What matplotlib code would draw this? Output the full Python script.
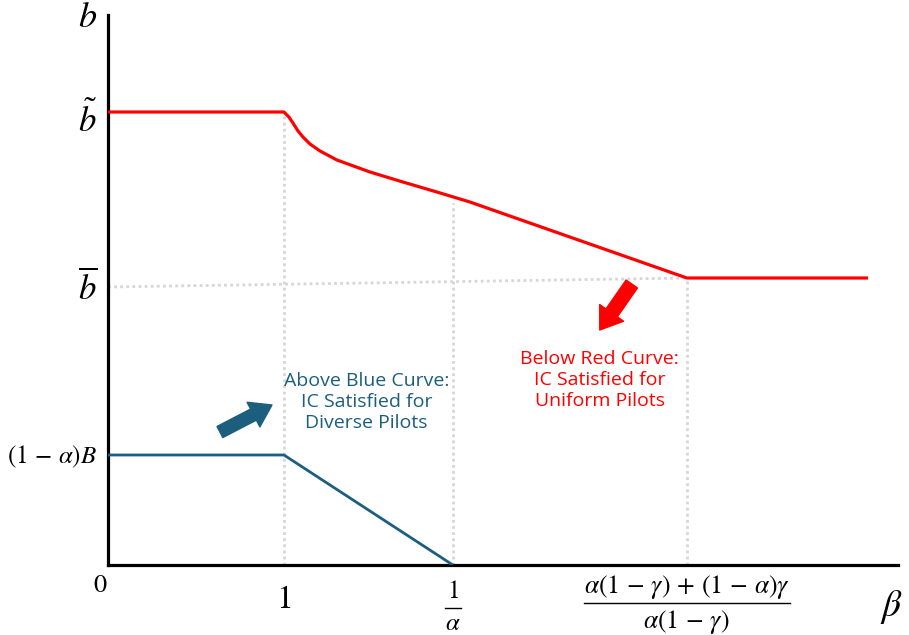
import numpy as np
import matplotlib
matplotlib.use("Agg")
import matplotlib.pyplot as plt

plt.rcParams["mathtext.fontset"] = "stix"
plt.rcParams["font.family"] = ["Open Sans", "DejaVu Sans"]

# Red curve (IC for uniform pilots)
beta_red = [0.0, 1.0, 1.028, 1.051, 1.080, 1.108, 1.148, 1.205, 1.301, 1.489, 1.676, 1.869, 2.057, 3.29, 4.32]
b_red = [4.53, 4.53, 4.48, 4.42, 4.34, 4.28, 4.21, 4.14, 4.05, 3.93, 3.83, 3.73, 3.63, 2.87, 2.87]

# Blue curve (IC for diverse pilots)
beta_blue = [0.0, 1.0, 1.96]
b_blue = [1.10, 1.10, 0.0]

# key levels
one = 1.0
inv_alpha = 1.96
beta_kink = 3.29
b_tilde = 4.53
b_bar_left, b_bar = 2.78, 2.87
b_low = 1.10

RED = "#ff0000"
BLUE = "#1b5e7e"
GREY = "#d6d6d6"

fig = plt.figure(figsize=(9.09, 6.35), dpi=100)
ax = fig.add_axes([108 / 909, 70 / 635, 790 / 909, 550 / 635])
ax.set_xlim(0, 4.49)
ax.set_ylim(0, 5.5)

for s in ["top", "right"]:
    ax.spines[s].set_visible(False)
for s in ["left", "bottom"]:
    ax.spines[s].set_linewidth(2.3)
    ax.spines[s].set_color("black")
ax.set_xticks([])
ax.set_yticks([])

# dotted guide lines
dot = dict(color=GREY, lw=2.0, linestyle=(0, (1, 1.2)), zorder=1)
ax.plot([one, one], [0, b_tilde], **dot)
ax.plot([inv_alpha, inv_alpha], [0, np.interp(inv_alpha, beta_red, b_red) - 0.06], **dot)
ax.plot([beta_kink, beta_kink], [0, b_bar], **dot)
ax.plot([0, beta_kink], [b_bar_left, b_bar], **dot)

# curves
ax.plot(beta_red, b_red, color=RED, lw=2.3, solid_capstyle="butt", solid_joinstyle="round", zorder=3)
ax.plot(beta_blue, b_blue, color=BLUE, lw=2.0, solid_capstyle="butt", zorder=3)

# axis labels
ax.text(-0.115, 5.47, r"$b$", fontsize=26, ha="center", va="center", clip_on=False)
ax.text(4.45, -0.42, r"$\beta$", fontsize=27, ha="center", va="center", clip_on=False)

# y tick labels
ax.text(-0.115, 4.44, r"$\tilde{b}$", fontsize=25, ha="center", va="center", clip_on=False)
ax.text(-0.115, 2.76, r"$\overline{b}$", fontsize=25, ha="center", va="center", clip_on=False)
ax.text(-0.06, 1.08, r"$(1\,-\,\alpha)B$", fontsize=18, ha="right", va="center", clip_on=False)

# x tick labels
ax.text(-0.045, -0.2, "$0$", fontsize=19, ha="center", va="center", clip_on=False)
ax.text(one, -0.34, "$1$", fontsize=24, ha="center", va="center", clip_on=False)


def fraction(x, num, den, y_num, y_bar, y_den, half_w, size):
    ax.text(x, y_num, num, fontsize=size, ha="center", va="center", clip_on=False)
    ax.text(x, y_den, den, fontsize=size, ha="center", va="center", clip_on=False)
    ax.plot([x - half_w, x + half_w], [y_bar, y_bar], color="black", lw=1.0, clip_on=False)


fraction(inv_alpha, "$1$", r"$\alpha$", -0.26, -0.43, -0.58, 0.045, 18)
fraction(beta_kink, r"$\alpha(1\,-\,\gamma)\,+\,(1\,-\,\alpha)\gamma$", r"$\alpha(1\,-\,\gamma)$",
         -0.22, -0.38, -0.57, 0.585, 18.5)

# region notes
ax.text(1.47, 1.63, "Above Blue Curve:\nIC Satisfied for\nDiverse Pilots", color=BLUE,
        fontsize=14, ha="center", va="center", linespacing=1.2)
ax.text(2.795, 1.85, "Below Red Curve:\nIC Satisfied for\nUniform Pilots", color=RED,
        fontsize=14, ha="center", va="center", linespacing=1.2)

# fat arrows
blue_tail, blue_tip = (0.636, 1.33), (0.932, 1.60)
red_tail, red_tip = (2.977, 2.81), (2.795, 2.35)
ax.annotate("", xy=blue_tip, xytext=blue_tail,
            arrowprops=dict(arrowstyle="simple,head_length=0.75,head_width=1.0,tail_width=0.45",
                            color=BLUE, shrinkA=0, shrinkB=0, mutation_scale=20))
ax.annotate("", xy=red_tip, xytext=red_tail,
            arrowprops=dict(arrowstyle="simple,head_length=0.75,head_width=1.05,tail_width=0.5",
                            color=RED, shrinkA=0, shrinkB=0, mutation_scale=20))

fig.savefig("out.png", dpi=100, facecolor="white")
